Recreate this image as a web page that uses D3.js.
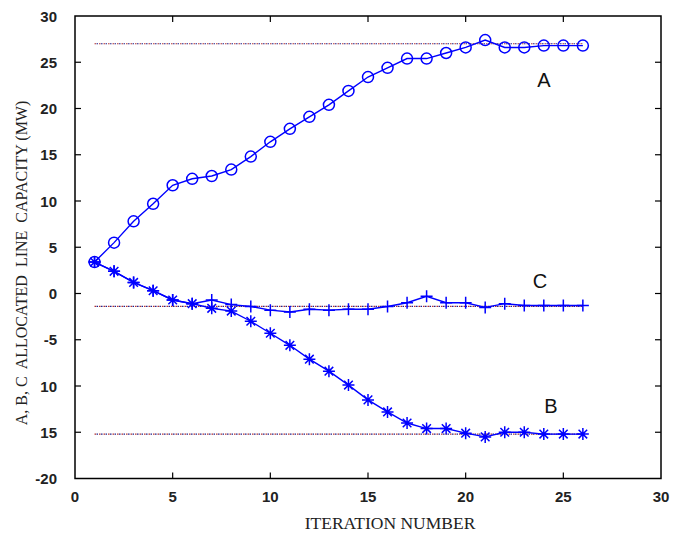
<!DOCTYPE html>
<html>
<head>
<meta charset="utf-8">
<script src="https://cdn.jsdelivr.net/npm/d3@7"></script>
<style>
  html, body { margin: 0; padding: 0; background: #fff; }
</style>
</head>
<body>
<svg id="chart" width="684" height="534"></svg>
<script>
// iteration numbers and the three allocated capacities
const iterations = d3.range(1, 27);
const lineA = [3.4, 5.5, 7.8, 9.7, 11.7, 12.4, 12.7, 13.4, 14.8, 16.4, 17.8, 19.1, 20.4, 21.9,
  23.4, 24.4, 25.4, 25.4, 26.0, 26.6, 27.4, 26.6, 26.6, 26.8, 26.8, 26.8];
const lineB = [3.4, 2.4, 1.2, 0.3, -0.7, -1.1, -1.6, -1.9, -3.0, -4.3, -5.6, -7.1, -8.4, -9.9,
  -11.5, -12.8, -14.0, -14.6, -14.6, -15.1, -15.5, -15.0, -15.0, -15.2, -15.2, -15.2];
const lineC = [3.4, 2.4, 1.2, 0.3, -0.7, -1.1, -0.7, -1.2, -1.4, -1.8, -2.0, -1.7, -1.8, -1.7,
  -1.7, -1.4, -1.0, -0.3, -1.0, -1.0, -1.5, -1.1, -1.3, -1.3, -1.3, -1.3];
// final (target) values drawn as dotted reference lines
const targets = [27, -1.4, -15.2];
const targetSpan = [1, 26];
const xTicks = [0, 5, 10, 15, 20, 25, 30];
const yTicks = [-20, -15, -10, -5, 0, 5, 10, 15, 20, 25, 30];
const yTickLabels = ["-20", "15", "10", "-5", "0", "5", "10", "15", "20", "25", "30"];
const seriesNames = ["A", "B", "C"];

const plotLeft = 75, plotRight = 661, plotTop = 16, plotBottom = 478.5;
const blue = "#0000ff";

const svg = d3.select("#chart");
const x = d3.scaleLinear().domain([0, 30]).range([plotLeft, plotRight]);
const y = d3.scaleLinear().domain([-20, 30]).range([plotBottom, plotTop]);

/* dotted target lines (they look like mixed red/blue dots) */
targets.forEach(t => {
    svg.append("line")
        .attr("x1", x(targetSpan[0])).attr("x2", x(targetSpan[1]))
        .attr("y1", y(t)).attr("y2", y(t))
        .attr("stroke", "#b03030").attr("stroke-width", 1.2)
        .attr("stroke-dasharray", "1.5,3");
    svg.append("line")
        .attr("x1", x(targetSpan[0]) + 2).attr("x2", x(targetSpan[1]))
        .attr("y1", y(t)).attr("y2", y(t))
        .attr("stroke", "#20208a").attr("stroke-width", 1.2)
        .attr("stroke-dasharray", "1.5,3");
});

const line = d3.line().x((d, i) => x(iterations[i])).y(d => y(d));

function drawSeries(values, marker) {
    svg.append("path")
        .datum(values)
        .attr("fill", "none")
        .attr("stroke", blue)
        .attr("stroke-width", 1.4)
        .attr("d", line);
    const g = svg.append("g")
        .attr("fill", "none")
        .attr("stroke", blue)
        .attr("stroke-width", 1.5);
    g.selectAll("path")
        .data(values)
        .join("path")
        .attr("transform", (d, i) => `translate(${x(iterations[i])},${y(d)})`)
        .attr("d", marker);
}

const circleMark = "M5.5,0A5.5,5.5 0 1,1 -5.5,0A5.5,5.5 0 1,1 5.5,0Z";
const plusMark = "M-6,0H6M0,-6V6";
const starMark = "M-6,0H6M0,-6V6M-4.3,-4.3L4.3,4.3M-4.3,4.3L4.3,-4.3";

drawSeries(lineC, plusMark);
drawSeries(lineB, starMark);
drawSeries(lineA, circleMark);

/* box with inward ticks on all four sides */
svg.append("rect")
    .attr("x", plotLeft).attr("y", plotTop)
    .attr("width", plotRight - plotLeft).attr("height", plotBottom - plotTop)
    .attr("fill", "none").attr("stroke", "#000").attr("stroke-width", 1.5);

const ticks = svg.append("g").attr("stroke", "#000").attr("stroke-width", 1.2);
xTicks.slice(1, -1).forEach(t => {
    ticks.append("line").attr("x1", x(t)).attr("x2", x(t)).attr("y1", plotBottom).attr("y2", plotBottom - 6);
    ticks.append("line").attr("x1", x(t)).attr("x2", x(t)).attr("y1", plotTop).attr("y2", plotTop + 6);
});
yTicks.slice(1, -1).forEach(t => {
    ticks.append("line").attr("x1", plotLeft).attr("x2", plotLeft + 6).attr("y1", y(t)).attr("y2", y(t));
    ticks.append("line").attr("x1", plotRight).attr("x2", plotRight - 6).attr("y1", y(t)).attr("y2", y(t));
});

const tickFont = "bold 15px 'Liberation Sans', Arial, sans-serif";
svg.append("g").selectAll("text")
    .data(xTicks)
    .join("text")
    .attr("x", d => x(d))
    .attr("y", 502)
    .attr("text-anchor", "middle")
    .style("font", tickFont)
    .attr("fill", "#222")
    .text(d => d);

svg.append("g").selectAll("text")
    .data(yTicks)
    .join("text")
    .attr("x", 57)
    .attr("y", d => y(d) + 5.5)
    .attr("text-anchor", "end")
    .style("font", tickFont)
    .attr("fill", "#222")
    .text((d, i) => yTickLabels[i]);

/* axis titles (serif, like the original) */
svg.append("text")
    .attr("x", 390).attr("y", 529)
    .attr("text-anchor", "middle")
    .style("font", "17.5px 'Liberation Serif', 'Times New Roman', serif")
    .attr("fill", "#222")
    .text("ITERATION NUMBER");

svg.append("text")
    .attr("transform", "translate(27,263) rotate(-90)")
    .attr("text-anchor", "middle")
    .style("font", "16px 'Liberation Serif', 'Times New Roman', serif")
    .style("white-space", "pre")
    .attr("fill", "#222")
    .text("A, B, C  ALLOCATED  LINE  CAPACITY (MW)");

/* series labels */
const labelPos = {A: [544, 87], B: [551, 413], C: [540, 288]};
svg.append("g").selectAll("text")
    .data(seriesNames)
    .join("text")
    .attr("x", d => labelPos[d][0])
    .attr("y", d => labelPos[d][1])
    .attr("text-anchor", "middle")
    .style("font", "20px 'Liberation Sans', Arial, sans-serif")
    .attr("fill", "#111")
    .text(d => d);
</script>
</body>
</html>
